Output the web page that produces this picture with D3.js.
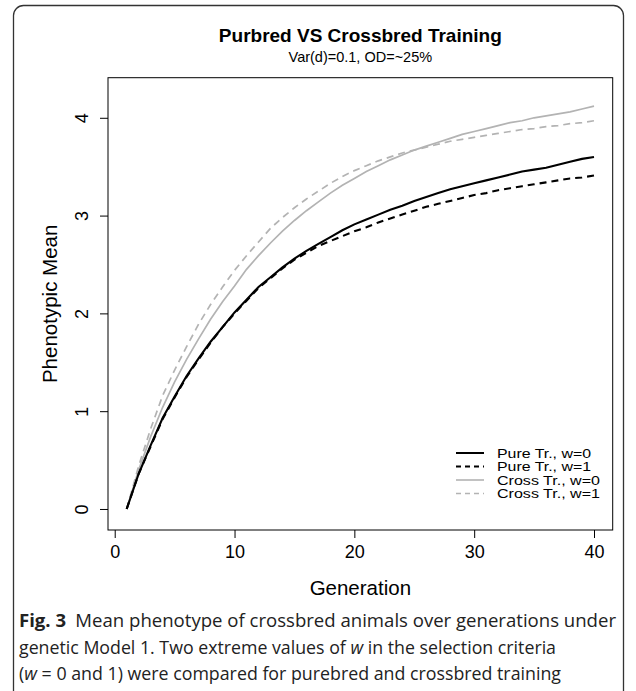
<!DOCTYPE html>
<html><head><meta charset="utf-8">
<script src="https://cdn.jsdelivr.net/npm/d3@7/dist/d3.min.js"></script>
<style>body{margin:0;background:#fff}</style>
</head><body><svg id="c" width="636" height="691"></svg>
<script>
const generations = [1,2,3,4,5,6,7,8,9,10,11,12,13,14,15,16,17,18,19,20,21,22,23,24,25,26,27,28,29,30,31,32,33,34,35,36,37,38,39,40];
const pureW0 = [0,0.36,0.65,0.93,1.15,1.36,1.54,1.71,1.86,2.01,2.14,2.27,2.37,2.47,2.56,2.64,2.71,2.78,2.85,2.91,2.96,3.01,3.06,3.10,3.15,3.19,3.23,3.27,3.30,3.33,3.36,3.39,3.42,3.45,3.47,3.49,3.52,3.55,3.58,3.60];
const pureW1 = [0,0.36,0.64,0.92,1.14,1.35,1.53,1.70,1.86,2.00,2.13,2.26,2.36,2.46,2.55,2.62,2.69,2.74,2.79,2.84,2.88,2.93,2.97,3.01,3.05,3.09,3.12,3.15,3.18,3.21,3.23,3.26,3.28,3.30,3.32,3.34,3.36,3.38,3.39,3.41];
const crossW0 = [0,0.40,0.74,1.04,1.30,1.53,1.74,1.94,2.12,2.28,2.45,2.59,2.72,2.84,2.95,3.05,3.14,3.23,3.31,3.38,3.45,3.51,3.57,3.62,3.67,3.71,3.75,3.79,3.83,3.86,3.89,3.92,3.95,3.97,4.00,4.02,4.04,4.06,4.09,4.12];
const crossW1 = [0,0.44,0.82,1.16,1.42,1.66,1.89,2.09,2.27,2.44,2.59,2.73,2.87,2.98,3.08,3.17,3.25,3.33,3.40,3.46,3.51,3.56,3.60,3.64,3.67,3.70,3.73,3.76,3.78,3.80,3.82,3.84,3.86,3.88,3.89,3.91,3.92,3.94,3.95,3.97];
const xTicks = [0,10,20,30,40];
const yTicks = [0,1,2,3,4];
const seriesNames = ["Pure Tr., w=0","Pure Tr., w=1","Cross Tr., w=0","Cross Tr., w=1"];
const seriesColors = ["#000000","#000000","#b3b3b3","#b3b3b3"];
const seriesDashed = [false,true,false,true];
const titleText = "Purbred VS Crossbred Training";
const subtitleText = "Var(d)=0.1, OD=~25%";
const xLabelText = "Generation";
const yLabelText = "Phenotypic Mean";
const captionBold = "Fig. 3";
const captionLines = [
  "Mean phenotype of crossbred animals over generations under",
  "genetic Model 1. Two extreme values of ",
  "(",
];

const svg = d3.select("#c");
const P = {left:108, right:612.7, top:77.7, bottom:530};
const x = d3.scaleLinear().domain([-0.56, 41.56]).range([P.left, P.right]);
const y = d3.scaleLinear().domain([-0.215, 4.41]).range([P.bottom, P.top]);
const RF = "'Liberation Sans', Arial, Helvetica, sans-serif";

// outer frame
svg.append("rect").attr("x",13.5).attr("y",5.5).attr("width",610).attr("height",740)
  .attr("rx",10).attr("fill","none").attr("stroke","#333").attr("stroke-width",1.3);

// titles
svg.append("text").attr("x",(P.left+P.right)/2).attr("y",42).attr("text-anchor","middle")
  .attr("font-family",RF).attr("font-weight","bold").attr("font-size",19).text(titleText);
svg.append("text").attr("x",(P.left+P.right)/2).attr("y",62).attr("text-anchor","middle")
  .attr("font-family",RF).attr("font-size",14.5).text(subtitleText);

// axes
const xAxis = svg.append("g").attr("transform",`translate(0,${P.bottom})`)
  .call(d3.axisBottom(x).tickValues(xTicks).tickSize(8).tickPadding(7).tickFormat(d3.format("d")));
xAxis.select(".domain").remove();
xAxis.selectAll("text").attr("font-family",RF).attr("font-size",18).attr("fill","#000");
const yAxis = svg.append("g").attr("transform",`translate(${P.left},0)`)
  .call(d3.axisLeft(y).tickValues(yTicks).tickSize(8).tickFormat(d3.format("d")));
yAxis.select(".domain").remove();
yAxis.selectAll(".tick text").attr("font-family",RF).attr("font-size",18).attr("fill","#000")
  .attr("x",0).attr("dy",0).attr("text-anchor","middle")
  .attr("transform","translate(-26,0) rotate(-90)").attr("dominant-baseline","central");

// plot box
svg.append("rect").attr("x",P.left).attr("y",P.top).attr("width",P.right-P.left).attr("height",P.bottom-P.top)
  .attr("fill","none").attr("stroke","#000").attr("stroke-width",1);

// axis titles
svg.append("text").attr("x",(P.left+P.right)/2).attr("y",595).attr("text-anchor","middle")
  .attr("font-family",RF).attr("font-size",20.5).text(xLabelText);
svg.append("text").attr("transform",`translate(57,${(P.top+P.bottom)/2}) rotate(-90)`).attr("text-anchor","middle")
  .attr("font-family",RF).attr("font-size",20.5).text(yLabelText);

// lines
const allSeries = [pureW0, pureW1, crossW0, crossW1];
const line = d3.line().x((d,i)=>x(generations[i])).y(d=>y(d));
const order = [2,3,0,1];
order.forEach(k=>{
  svg.append("path").datum(allSeries[k]).attr("d",line).attr("fill","none")
    .attr("stroke",seriesColors[k]).attr("stroke-width",k<2?2.1:1.7)
    .attr("stroke-dasharray",seriesDashed[k]?"7,5":null);
});

// legend
const lg = svg.append("g");
const legendWidths = [94, 94, 103, 103];
seriesNames.forEach((nm,i)=>{
  const yy = 453 + i*13.5;
  lg.append("line").attr("x1",456).attr("x2",484).attr("y1",yy).attr("y2",yy)
    .attr("stroke",seriesColors[i]).attr("stroke-width",i<2?2:1.6)
    .attr("stroke-dasharray",seriesDashed[i]?"5,4":null);
  lg.append("text").attr("x",497).attr("y",yy).attr("dominant-baseline","central")
    .attr("font-family",RF).attr("font-size",13.4)
    .attr("textLength",legendWidths[i]).attr("lengthAdjust","spacingAndGlyphs").text(nm);
});

// caption
const CF = "'Open Sans', 'Noto Sans', sans-serif";
const cap = svg.append("g").attr("font-family",CF).attr("font-size",17.5).attr("fill","#222");
const l1 = cap.append("text").attr("x",19).attr("y",627).attr("textLength",597).attr("lengthAdjust","spacingAndGlyphs");
l1.append("tspan").attr("font-weight","bold").text(captionBold);
l1.append("tspan").text("\u2002" + captionLines[0]);
const l2 = cap.append("text").attr("x",19).attr("y",654).attr("textLength",537).attr("lengthAdjust","spacingAndGlyphs");
l2.append("tspan").text(captionLines[1]);
l2.append("tspan").attr("font-style","italic").text("w");
l2.append("tspan").text(" in the selection criteria");
const l3 = cap.append("text").attr("x",19).attr("y",680).attr("textLength",542).attr("lengthAdjust","spacingAndGlyphs");
l3.append("tspan").text(captionLines[2]);
l3.append("tspan").attr("font-style","italic").text("w");
l3.append("tspan").text(" = 0 and 1) were compared for purebred and crossbred training");
</script></body></html>
